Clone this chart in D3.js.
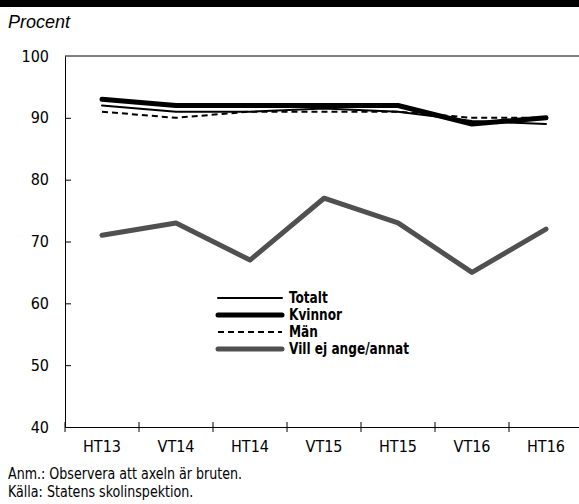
<!DOCTYPE html>
<html><head><meta charset="utf-8">
<script src="https://cdn.jsdelivr.net/npm/d3@7"></script>
<style>
body{margin:0;background:#fff;}
svg{display:block;}
.cond{font-family:"DejaVu Sans Condensed","DejaVu Sans",sans-serif;font-stretch:condensed;}
</style>
</head><body>
<svg id="c" width="579" height="504"></svg>
<script>
const categories = ["HT13","VT14","HT14","VT15","HT15","VT16","HT16"];
const totalt  = [92, 91, 91, 91.5, 91, 89.5, 89];
const kvinnor = [93, 92, 92, 92, 92, 89, 90];
const man     = [91, 90, 91, 91, 91, 90, 90];
const villEj  = [71, 73, 67, 77, 73, 65, 72];
const yTicks  = [40, 50, 60, 70, 80, 90, 100];
const seriesNames = ["Totalt","Kvinnor","Män","Vill ej ange/annat"];

const svg = d3.select("#c");
const mLeft = 65, mRight = 583, mTop = 56, mBottom = 427;

svg.append("rect").attr("x",0).attr("y",0).attr("width",579).attr("height",7).attr("fill","#000");

svg.append("text").attr("x",8).attr("y",28)
  .attr("font-family","Liberation Sans, Arial, sans-serif").attr("font-style","italic")
  .attr("font-size",18).text("Procent");

const x = d3.scaleBand().domain(categories).range([mLeft,mRight]);
const y = d3.scaleLinear().domain([40,100]).range([mBottom,mTop]);

svg.append("line").attr("x1",mLeft).attr("x2",mRight).attr("y1",y(100)).attr("y2",y(100))
  .attr("stroke","#000").attr("stroke-width",1);

const yAxis = svg.append("g").attr("transform",`translate(${mLeft},0)`)
  .call(d3.axisLeft(y).tickValues(yTicks).tickSize(-6).tickSizeOuter(0).tickPadding(16));
yAxis.attr("font-family",null).attr("font-size",null);
yAxis.select(".domain").attr("stroke","#000");
yAxis.selectAll(".tick line").attr("stroke","#000");
yAxis.selectAll(".tick").filter(d=>d===100||d===40).select("line").remove();
yAxis.selectAll("text").attr("class","cond").attr("font-size",16).attr("fill","#000");

const xAxis = svg.append("g").attr("transform",`translate(0,${mBottom})`)
  .call(d3.axisBottom(x).tickSize(0).tickPadding(14));
xAxis.attr("font-family",null).attr("font-size",null);
xAxis.select(".domain").attr("stroke","#000");
xAxis.selectAll("text").attr("class","cond").attr("font-size",16).attr("fill","#000");
const bounds = categories.map(c=>x(c)).concat([mRight]);
svg.append("g").selectAll("line").data(bounds).join("line")
  .attr("x1",d=>d).attr("x2",d=>d).attr("y1",mBottom-5).attr("y2",mBottom+5)
  .attr("stroke","#000").attr("stroke-width",1);

const cx = c => x(c) + x.bandwidth()/2;
const line = d3.line().x((d,i)=>cx(categories[i])).y(d=>y(d));

const styles = [
  {data: totalt, w:2, color:"#000", dash:null},
  {data: kvinnor, w:5, color:"#000", dash:null},
  {data: man, w:2, color:"#000", dash:"6,4"},
  {data: villEj, w:5, color:"#505050", dash:null}
];
const draw = [styles[3], styles[2], styles[0], styles[1]];
draw.forEach(s=>{
  svg.append("path").attr("d",line(s.data)).attr("fill","none")
    .attr("stroke",s.color).attr("stroke-width",s.w)
    .attr("stroke-linecap",s.dash?"butt":"round")
    .attr("stroke-linejoin","round")
    .attr("stroke-dasharray",s.dash);
});

const lg = svg.append("g");
styles.forEach((s,i)=>{
  const yy = 298 + i*17;
  lg.append("line").attr("x1",218).attr("x2",282).attr("y1",yy).attr("y2",yy)
    .attr("stroke",s.color).attr("stroke-width",s.w).attr("stroke-dasharray",s.dash)
    .attr("stroke-linecap",s.dash?"butt":"round");
  lg.append("text").attr("class","cond").attr("transform",`translate(289,${yy+5}) scale(0.9,1)`)
    .attr("font-size",15).attr("font-weight","bold").text(seriesNames[i]);
});

svg.append("text").attr("class","cond").attr("transform","translate(8,479) scale(0.88,1)").attr("font-size",16).text("Anm.: Observera att axeln är bruten.");
svg.append("text").attr("class","cond").attr("transform","translate(8,497) scale(0.88,1)").attr("font-size",16).text("Källa: Statens skolinspektion.");
</script>
</body></html>
